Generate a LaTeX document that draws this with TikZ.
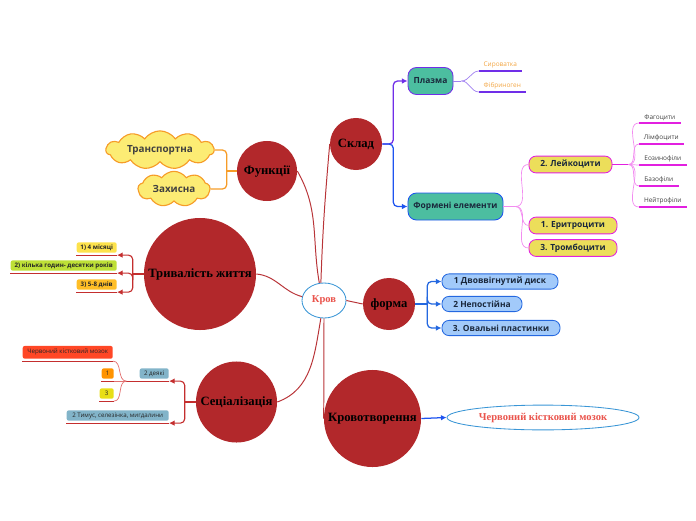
\documentclass[tikz,border=0pt]{standalone}
\usepackage{fontspec}
\setmainfont{Liberation Serif}
\setsansfont{Open Sans}
\usetikzlibrary{shapes,arrows.meta,positioning,calc}
\definecolor{topicred}{RGB}{178,40,43}
\definecolor{linkred}{RGB}{184,52,56}
\definecolor{rootblue}{RGB}{58,150,214}
\definecolor{rootred}{RGB}{234,84,76}
\definecolor{sklblue}{RGB}{30,84,240}
\definecolor{sklviolet}{RGB}{112,46,232}
\definecolor{plazline}{RGB}{160,128,240}
\definecolor{plazorange}{RGB}{242,164,64}
\definecolor{tealfill}{RGB}{76,190,160}
\definecolor{cellpink}{RGB}{226,32,224}
\definecolor{celllight}{RGB}{242,140,240}
\definecolor{cellyellow}{RGB}{236,222,90}
\definecolor{boxtext}{RGB}{26,40,60}
\definecolor{cloudorange}{RGB}{246,156,40}
\definecolor{cloudyellow}{RGB}{252,236,116}
\definecolor{formblue}{RGB}{36,104,224}
\definecolor{formfill}{RGB}{162,202,250}
\definecolor{ulred}{RGB}{196,46,46}
\definecolor{ullight}{RGB}{226,112,112}

\tikzset{
  topic/.style={circle, fill=topicred, inner sep=0pt, align=center,
    font=\rmfamily\bfseries\fontsize{9}{10}\selectfont},
  rootnode/.style={ellipse, draw=rootblue, line width=0.6pt, fill=white,
    text=rootred, inner sep=0pt, font=\rmfamily\bfseries\fontsize{7.5}{8}\selectfont},
  link/.style={draw=linkred, line width=0.7pt},
  tealbox/.style={rounded corners=6pt, fill=tealfill, line width=0.6pt,
    inner sep=1pt, font=\sffamily\bfseries\fontsize{6}{7}\selectfont, text=boxtext},
  cellbox/.style={rounded corners=5pt, fill=cellyellow, draw=cellpink, line width=0.6pt,
    minimum height=0.42cm, inner sep=1pt, font=\sffamily\bfseries\fontsize{6}{7}\selectfont, text=boxtext},
  formbox/.style={rounded corners=5pt, fill=formfill, draw=formblue, line width=0.6pt,
    minimum height=0.38cm, inner sep=1pt, font=\sffamily\bfseries\fontsize{6}{7}\selectfont, text=boxtext},
  cloudbox/.style={cloud, cloud puffs=11, cloud puff arc=110, draw=cloudorange,
    line width=0.8pt, fill=cloudyellow, inner sep=0pt,
    font=\sffamily\bfseries\fontsize{7}{8}\selectfont, text=black!75},
  leaf/.style={anchor=south west, inner xsep=0pt, inner ysep=1.6pt,
    font=\sffamily\fontsize{4.6}{5}\selectfont, text=black!75},
  tagbox/.style={rounded corners=1.5pt, inner sep=1pt, minimum height=0.26cm,
    font=\sffamily\fontsize{4.4}{5}\selectfont, text=black!85},
  ulline/.style={draw=ulred, line width=0.8pt},
}

\begin{document}
\begin{tikzpicture}[x=0.025cm, y=-0.025cm]
\useasboundingbox (0,0) rectangle (696,520);

% ---- Centre ----
\node[rootnode, minimum width=1.1cm, minimum height=0.875cm] (krov) at (324,300.5) {Кров};

% ---- Main topics ----
\node[topic, minimum size=1.3cm] (sklad) at (356,144) {Склад};
\node[topic, minimum size=1.5cm] (funk) at (267,171) {Функції};
\node[topic, minimum size=2.8cm] (tryv) at (200,274) {Тривалість життя};
\node[topic, minimum size=1.3cm] (forma) at (389,304) {форма};
\node[topic, minimum size=2.025cm] (soc) at (236.5,402) {Сеціалізація};
\node[topic, minimum size=2.425cm] (krovo) at (372.5,418.5) {Кровотворення};

% ---- Links from the centre ----
\draw[link] (krov.100) to[out=88,in=-95] (sklad.west);
\draw[link] (krov.105) to[out=100,in=-60] (funk.east);
\draw[link] (krov.170) to[out=165,in=-5] (tryv.east);
\draw[link] (krov.260) to[out=-100,in=20] (soc.east);
\draw[link] (krov.east) -- (forma.west);
\draw[link] (krov.south) -- (krovo.west);

% ---- Склад ----
\node[tealbox, draw=sklviolet, minimum width=1.125cm, minimum height=0.675cm] (plazma) at (430.5,81) {Плазма};
\node[tealbox, draw=sklblue, minimum width=2.375cm, minimum height=0.675cm] (formeni) at (455.5,206.5) {Формені елементи};
\draw[sklviolet, line width=0.9pt, rounded corners=3pt, -{Latex[length=4pt,width=4pt]}]
  (sklad.east) -- ++(11,0) |- (plazma.west);
\draw[sklblue, line width=0.9pt, rounded corners=3pt, -{Latex[length=4pt,width=4pt]}]
  (sklad.east) -- ++(11,0) |- (formeni.west);

% plasma parts
\draw[plazline, line width=0.5pt] (plazma.east) -- ++(8,0) coordinate (psplit);
\node[leaf, text=plazorange, minimum width=1.05cm] (syrov) at (479,71) {Сироватка};
\node[leaf, text=plazorange, minimum width=1.15cm] (fibr) at (479,92) {Фібриноген};
\foreach \n in {syrov,fibr} {
  \draw[sklviolet, line width=1pt] (\n.south west) -- (\n.south east);
  \draw[plazline, line width=0.5pt] (psplit) to[out=0,in=180] (\n.south west);
}

% blood cells
\node[cellbox, minimum width=2.075cm] (leik) at (570.5,164.5) {2. Лейкоцити};
\node[cellbox, minimum width=2.2cm] (erytr) at (573,225.5) {1. Еритроцити};
\node[cellbox, minimum width=2.2cm] (tromb) at (573,248) {3. Тромбоцити};
\draw[celllight, line width=0.6pt] (formeni.east) -- ++(12,0) coordinate (fesplit);
\foreach \n in {leik,erytr,tromb}
  \draw[celllight, line width=0.5pt] (fesplit) to[out=0,in=180] (\n.west);

\draw[cellpink, line width=0.8pt] (leik.east) -- ++(16,0) coordinate (lsplit);
\foreach \n/\txt/\yy/\ww in {fag/Фагоцити/123/1.025, limf/Лімфоцити/144/1.1,
    eoz/Еозинофіли/165/1.175, baz/Базофіли/186/0.975, neit/Нейтрофіли/207/1.175} {
  \node[leaf, minimum width=\ww cm] (\n) at (639,\yy) {\txt};
  \draw[cellpink, line width=1pt] (\n.south west) -- (\n.south east);
  \draw[celllight, line width=0.5pt] (lsplit) to[out=0,in=180] (\n.south west);
}

% ---- Функції ----
\node[cloudbox, aspect=3.6, minimum width=2.7cm, minimum height=0.75cm] (transp) at (160,150) {Транспортна};
\node[cloudbox, aspect=2.3, cloud puffs=9, minimum width=1.8cm, minimum height=0.78cm] (zakh) at (174,189) {Захисна};
\draw[cloudorange, line width=0.9pt] (funk.west) -- ++(-10,0) coordinate (fjoin);
\foreach \n in {transp,zakh}
  \draw[cloudorange, line width=0.9pt, rounded corners=3pt] (fjoin) |- (\n.east);

% ---- Тривалість життя ----
\node[tagbox, fill=yellow!75!orange!70, minimum width=1cm, anchor=south east] (misiac) at (117,253) {\bfseries 1) 4 місяці};
\node[tagbox, fill=yellow!70!green!85, minimum width=2.65cm, anchor=south east] (hodyn) at (117,271) {\bfseries 2) кілька годин- десятки років};
\node[tagbox, fill=orange!60!yellow!85, minimum width=1cm, anchor=south east] (dniv) at (117,290) {\bfseries 3) 5-8 днів};
\draw[ulline] (tryv.west) -- ++(-11,0) coordinate (tjoin);
\foreach \n in {misiac,hodyn,dniv} {
  \draw[ulline] ([yshift=-1.5pt]\n.south west) -- ([yshift=-1.5pt]\n.south east);
  \draw[ulline, rounded corners=3pt, -{Latex[length=4pt,width=4pt]}] (tjoin) |- ([yshift=-1.5pt]\n.south east);
}

% ---- Сеціалізація ----
\node[tagbox, fill=blue!30!cyan!40!gray!70, minimum width=0.725cm, anchor=south east] (deiaki) at (169,379) {2 деякі};
\node[tagbox, fill=blue!30!cyan!40!gray!70, minimum width=2.55cm, anchor=south east] (tymus) at (169,421) {2 Тимус, селезінка, мигдалини};
\node[tagbox, fill=red!70!orange!85, minimum width=2.25cm, minimum height=0.32cm, anchor=south east] (kmozok) at (113,359) {Червоний кістковий мозок};
\node[tagbox, fill=orange!85!yellow, minimum width=0.3cm, anchor=south east] (odyn) at (114,379) {1};
\node[tagbox, fill=yellow!90!black, minimum width=0.35cm, anchor=south east] (try) at (114,399) {3};
\draw[ulline] (soc.west) -- ++(-11,0) coordinate (sjoin);
\foreach \n in {deiaki,tymus,kmozok,odyn,try}
  \draw[ulline] ([yshift=-1.5pt]\n.south west) -- ([yshift=-1.5pt]\n.south east);
\foreach \n in {deiaki,tymus}
  \draw[ulline, rounded corners=3pt, -{Latex[length=4pt,width=4pt]}] (sjoin) |- ([yshift=-1.5pt]\n.south east);
\draw[ulline] ([yshift=-1.5pt]deiaki.south west) -- ++(-13,0) coordinate (djoin);
\foreach \n in {kmozok,odyn,try}
  \draw[ullight, line width=0.5pt] (djoin) to[out=180,in=0] ([yshift=-1.5pt]\n.south east);

% ---- форма ----
\node[formbox, minimum width=2.9cm] (disk) at (500,281.5) {1 Двоввігнутий диск};
\node[formbox, minimum width=2cm] (nepost) at (482,304) {2 Непостійна};
\node[formbox, minimum width=2.95cm] (plast) at (501,328) {3. Овальні пластинки};
\draw[formblue, line width=0.9pt] (forma.east) -- ++(12,0) coordinate (fsplit);
\foreach \n in {disk,nepost,plast}
  \draw[formblue, line width=0.9pt, rounded corners=3pt, -{Latex[length=4pt,width=4pt]}] (fsplit) |- (\n.west);

% ---- Кровотворення ----
\node[rootnode, minimum width=4.8cm, minimum height=0.62cm] (mozok) at (543,417.5) {Червоний кістковий мозок};
\draw[sklblue, line width=0.9pt, -{Latex[length=4pt,width=4pt]}] (krovo.east) -- (mozok.west);

\end{tikzpicture}
\end{document}
